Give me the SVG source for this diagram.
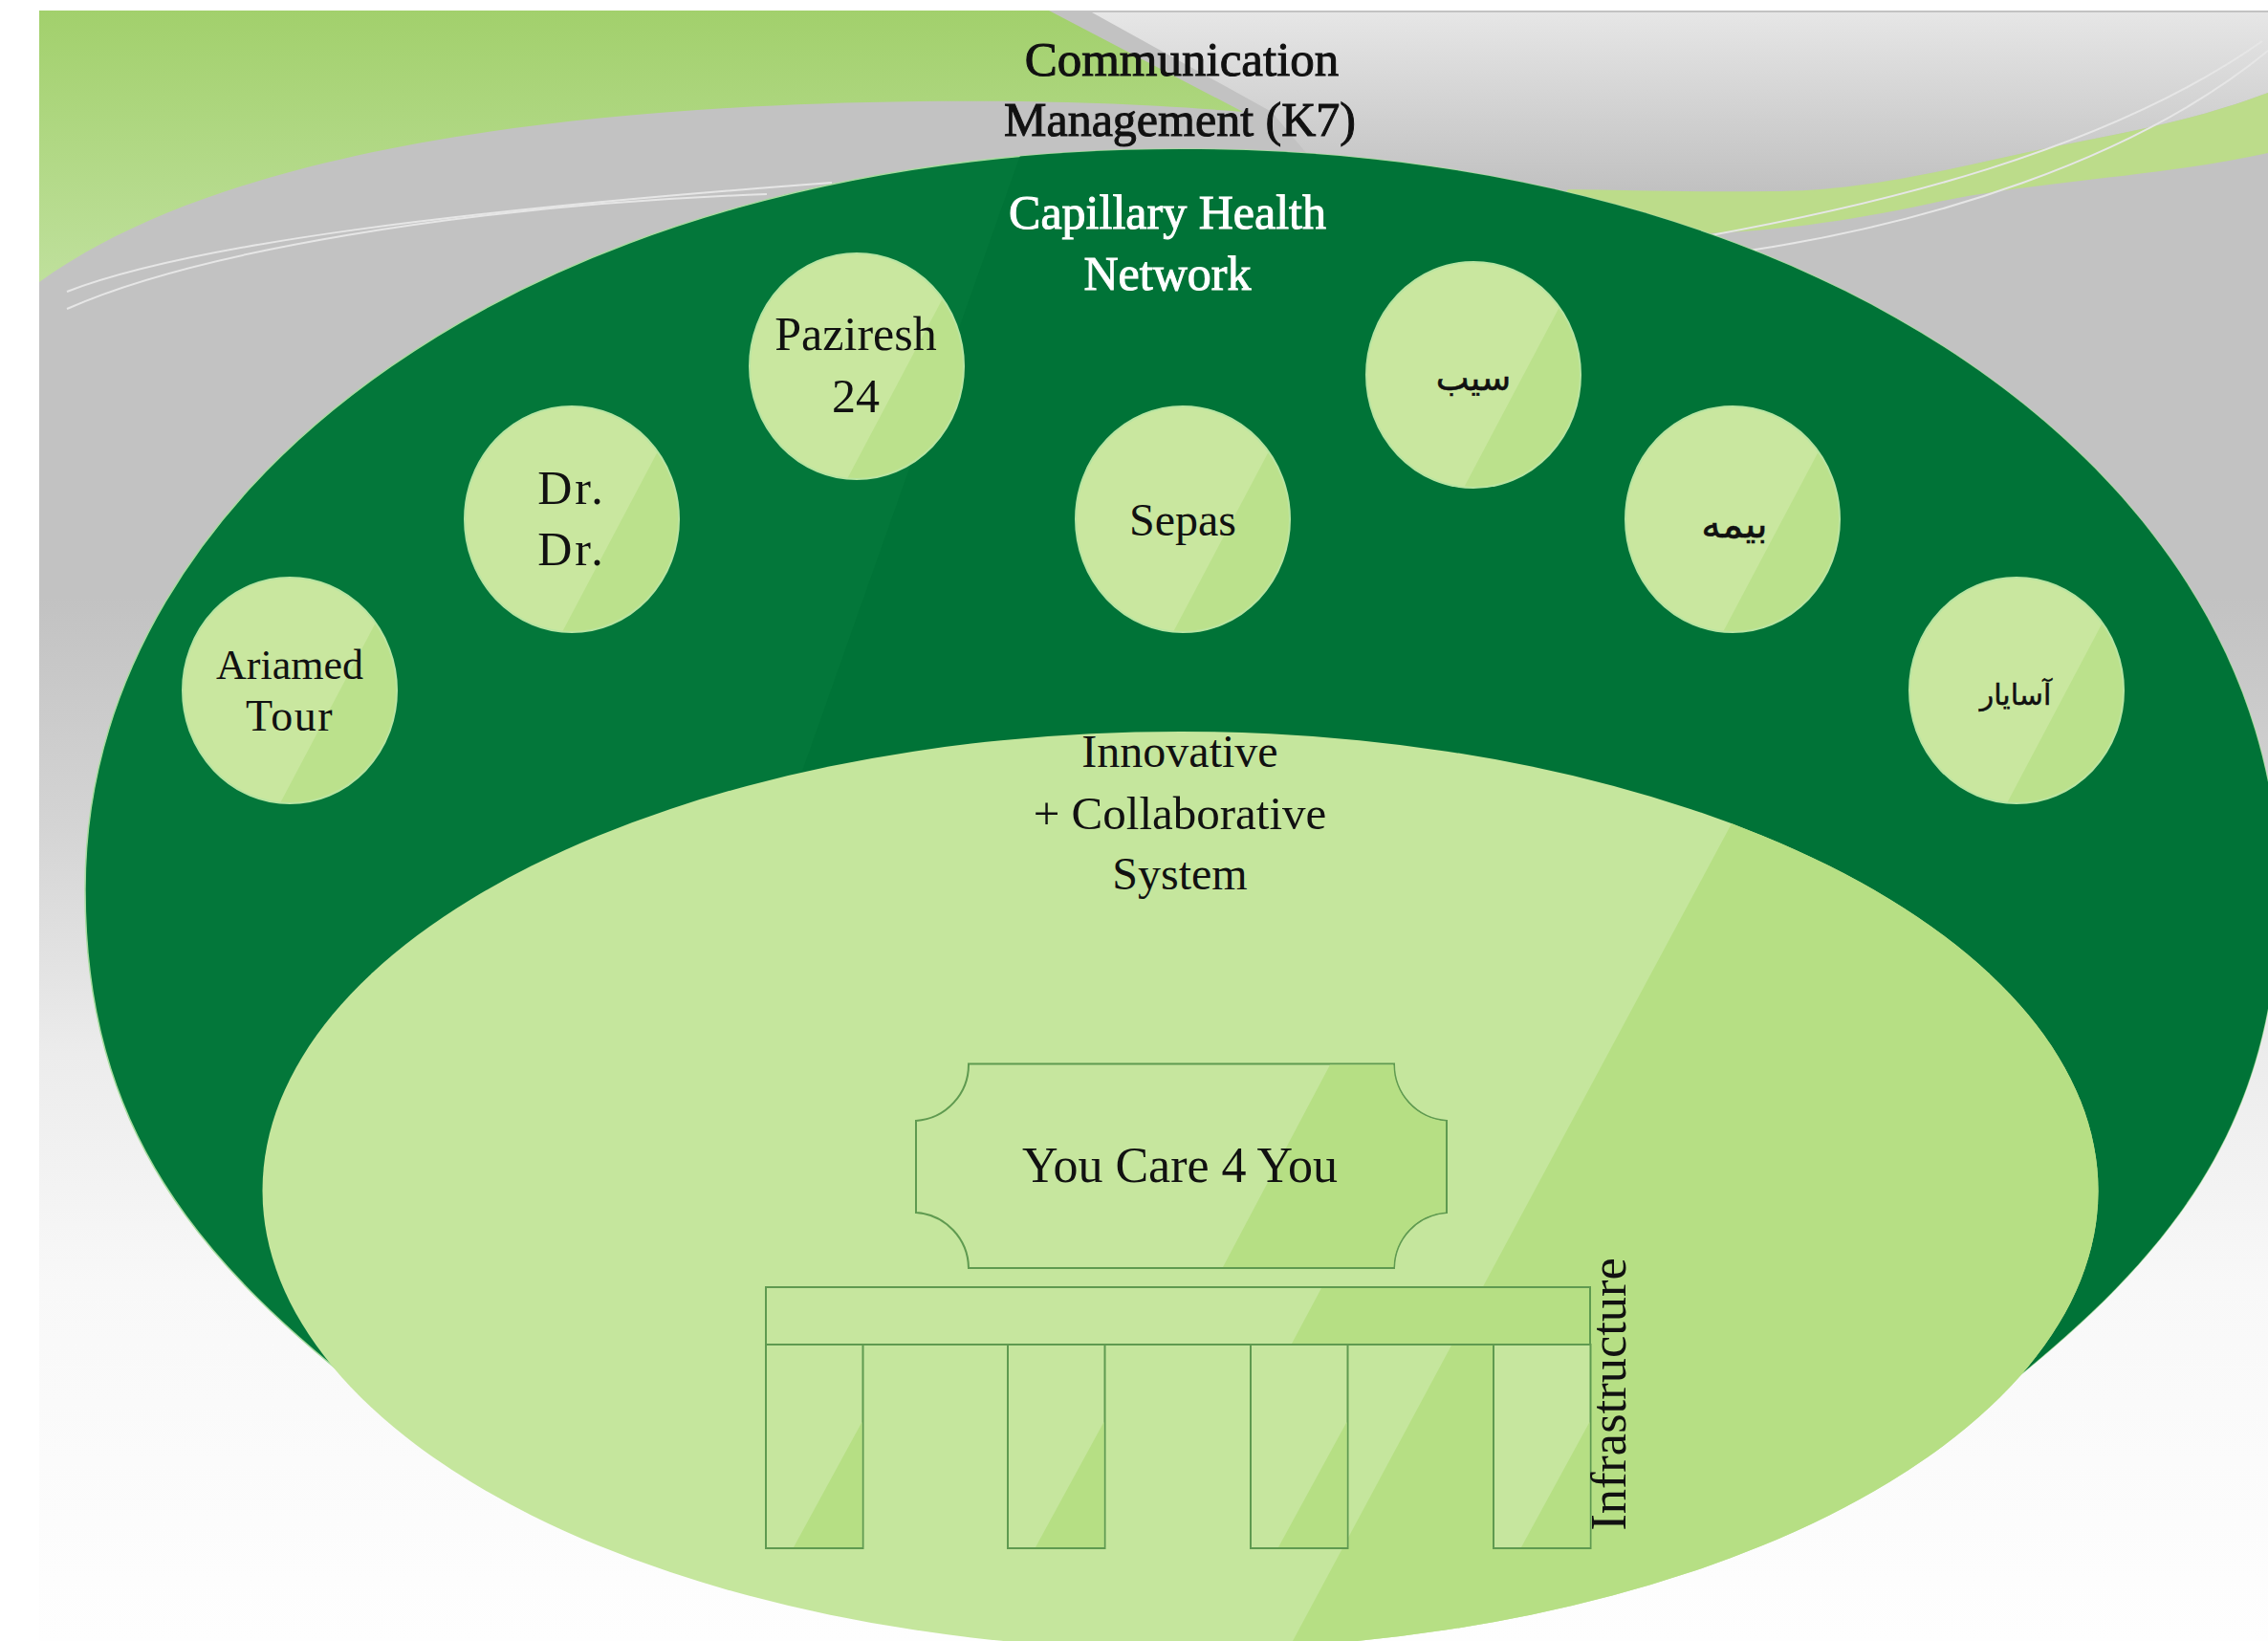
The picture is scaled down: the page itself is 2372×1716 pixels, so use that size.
<svg xmlns="http://www.w3.org/2000/svg" width="2372" height="1716" viewBox="0 0 2372 1716">
<style>
text{font-family:"Liberation Serif","DejaVu Serif",serif;fill:#111;text-anchor:middle;font-size:48px}
.fa{font-family:"DejaVu Sans","Noto Sans",sans-serif;stroke:#111;stroke-width:.5}
.b{stroke:#111;stroke-width:1}
.w{fill:#fff;stroke:#fff;stroke-width:1}
.line{fill:none;stroke:#e6e6e6;stroke-width:2}
.sh{fill:#c6e69e;stroke:#5f9a50;stroke-width:2}
.gl{fill:#b6df84}
</style>
<defs>
<linearGradient id="bg" x1="0" y1="0" x2="0" y2="1"><stop offset="0" stop-color="#c2c2c2"/><stop offset=".36" stop-color="#c2c2c2"/><stop offset=".5" stop-color="#d4d4d4"/><stop offset=".64" stop-color="#ececec"/><stop offset=".78" stop-color="#f8f8f8"/><stop offset="1" stop-color="#fefefe"/></linearGradient>
<linearGradient id="sky" x1="0" y1="0" x2="0" y2="1"><stop offset="0" stop-color="#e6e6e6"/><stop offset="1" stop-color="#bebebe"/></linearGradient>
<linearGradient id="leaf" x1="0" y1="0" x2="0" y2="1"><stop offset="0" stop-color="#a2d06c"/><stop offset="1" stop-color="#bfe09c"/></linearGradient>
<clipPath id="cBubble"><ellipse rx="111" ry="117"/></clipPath>
<g id="bubble"><ellipse rx="112" ry="118" fill="#c9e79f" stroke="#b8e5a2" stroke-width="2"/><path clip-path="url(#cBubble)" fill="#bbe18c" d="M100,-90L-18,133H150V-90Z"/></g>
<path id="outerShape" d="M89,930C89,503 560,156 1236,156C1912,156 2383,503 2383,930C2383,1180 2267,1320 2072,1470H400C205,1320 89,1180 89,930Z"/>
<clipPath id="cOuter"><use href="#outerShape"/></clipPath>
<clipPath id="cInner"><ellipse cx="1234.5" cy="1245" rx="960" ry="480"/></clipPath>
<g id="leg"><rect width="101.500" height="213" class="sh"/><path class="gl" d="M100.500,81V212H29Z"/></g>
</defs>
<g id="background">
<rect x="41" y="11" width="2331" height="1705" fill="url(#bg)"/>
<path d="M1142,13H2372V97C2270,135 2190,143 2094,165C2000,186 1930,200 1852,200C1780,201 1710,199 1640,198L1600,215L1400,200L1330,117Z" fill="url(#sky)"/>
<path d="M41,11H1097L1300,117C1190,108 1090,105 960,106C500,112 200,180 41,295Z" fill="url(#leaf)"/>
<path d="M1620,225L1640,198C1710,199 1780,201 1852,200C1930,200 2000,186 2094,165C2190,143 2270,135 2372,97V160C2260,185 2120,190 2018,213C1930,232 1850,242 1784,244C1720,244 1680,240 1620,225Z" fill="#bcdc8a"/>
<path class="line" d="M70,305C200,255 480,220 870,191"/>
<path class="line" d="M70,323C200,265 480,215 802,203"/>
<path class="line" d="M1784,247C1960,215 2200,160 2366,43"/>
<path class="line" d="M1829,262C2010,235 2230,170 2372,53"/>
</g>
<g id="network">
<use href="#outerShape" fill="#03773a" stroke="#a8dca0" stroke-width="1.500"/>
<path clip-path="url(#cOuter)" fill="#007337" d="M1075,140L517,1716H2400V140Z"/>
</g>
<g id="system">
<ellipse cx="1234.500" cy="1245" rx="960" ry="480" fill="#c5e69d"/>
<path clip-path="url(#cInner)" class="gl" d="M1817,850L1352,1716H2300V850Z"/>
</g>
<g id="node-ariamed"><use href="#bubble" x="303" y="722"/><text x="303" y="710" style="font-size:44px">Ariamed</text><text x="303" y="764" style="font-size:46px;letter-spacing:1.500px">Tour</text></g>
<g id="node-drdr"><use href="#bubble" x="598" y="543"/><text x="598" y="527" style="font-size:50px;letter-spacing:3px">Dr.</text><text x="598" y="591" style="font-size:50px;letter-spacing:3px">Dr.</text></g>
<g id="node-paziresh"><use href="#bubble" x="896" y="383"/><text x="895" y="366" style="font-size:50px">Paziresh</text><text x="895" y="431" style="font-size:50px">24</text></g>
<g id="node-sepas"><use href="#bubble" x="1237" y="543"/><text x="1237" y="560">Sepas</text></g>
<g id="node-sib"><use href="#bubble" x="1541" y="392"/><text class="fa" x="1541" y="408" direction="rtl" style="font-size:37px">سیب</text></g>
<g id="node-bimeh"><use href="#bubble" x="1812" y="543"/><text class="fa" x="1814" y="562" direction="rtl" style="font-size:41px">بیمه</text></g>
<g id="node-asayar"><use href="#bubble" x="2109" y="722"/><text class="fa" x="2108" y="737" direction="rtl" style="font-size:30px">آسایار</text></g>
<g id="label-k7"><text class="b" x="1236" y="79" style="font-size:51px">Communication</text><text class="b" x="1234" y="142" style="font-size:50px">Management (K7)</text></g>
<g id="label-capillary"><text class="w" x="1221" y="239" style="font-size:50px">Capillary Health</text><text class="w" x="1221" y="303" style="font-size:50px">Network</text></g>
<g id="label-innovative"><text x="1234" y="802">Innovative</text><text x="1234" y="867" style="font-size:49px">+ Collaborative</text><text x="1234" y="930">System</text></g>
<g id="node-you-care">
<path class="sh" d="M1013,1112.500H1458A59,59 0 0 0 1513,1172V1268A59,59 0 0 0 1458,1326H1013A59,59 0 0 0 958,1268V1172A59,59 0 0 0 1013,1112.500Z"/>
<path class="gl" d="M1391,1113.500H1457.500A59,59 0 0 0 1512,1172.500V1267.500A59,59 0 0 0 1457.500,1325H1279Z"/>
<text x="1234" y="1236" style="font-size:52px">You Care 4 You</text>
</g>
<g id="node-infrastructure">
<rect x="801" y="1346" width="862" height="60" class="sh"/>
<path class="gl" d="M1382,1347H1662V1405H1351Z"/>
<use href="#leg" x="801" y="1406"/>
<use href="#leg" x="1054" y="1406"/>
<use href="#leg" x="1308" y="1406"/>
<use href="#leg" x="1562" y="1406"/>
<text transform="translate(1700,1458) rotate(-90)" style="font-size:52.500px">Infrastructure</text>
</g>
</svg>
